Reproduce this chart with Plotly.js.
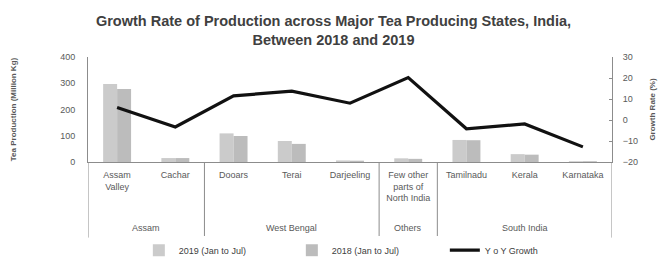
<!DOCTYPE html>
<html>
<head>
<meta charset="utf-8">
<script src="https://cdn.plot.ly/plotly-3.0.1.min.js"></script>
<style>html,body{margin:0;padding:0;background:#fff;}#chart{width:667px;height:258px;}</style>
</head>
<body>
<div id="chart"></div>
<script>
const regions = ["Assam Valley","Cachar","Dooars","Terai","Darjeeling","Few other parts of North India","Tamilnadu","Kerala","Karnataka"];
const regionLabels = ["Assam<br>Valley","Cachar","Dooars","Terai","Darjeeling","Few other<br>parts of<br>North India","Tamilnadu","Kerala","Karnataka"];
const groupNames = ["Assam","West Bengal","Others","South India"];
const groupStart = [0, 2, 5, 6];
const groupEnd = [1, 4, 5, 8];
const prod2019 = [297, 15, 109, 80, 6, 14, 84, 30, 3];
const prod2018 = [278, 15, 99, 69, 5, 12, 83, 28, 3];
const growth = [6.0, -3.3, 11.5, 13.7, 8.0, 20.2, -4.2, -1.9, -12.8];

const traces = [
  {type:'bar', name:'2019 (Jan to Jul)', x:regions, y:prod2019, marker:{color:'#cbcbcb'}},
  {type:'bar', name:'2018 (Jan to Jul)', x:regions, y:prod2018, marker:{color:'#bcbcbc'}},
  {type:'scatter', mode:'lines', name:'Y o Y Growth', x:regions, y:growth, yaxis:'y2', line:{color:'#111', width:3.2}}
];

const shapes = [];
const annotations = [];
const divs = [-0.5];
groupEnd.forEach(e => divs.push(e + 0.5));
divs.forEach(d => shapes.push({type:'line', xref:'x', yref:'paper', x0:d, x1:d, y0:0, y1:-0.72, line:{color:'#8c8c8c', width:1}}));
groupNames.forEach((g, i) => annotations.push({xref:'x', yref:'paper', x:(groupStart[i] + groupEnd[i]) / 2, y:-0.63, text:g, showarrow:false, yanchor:'middle', font:{size:9, color:'#595959'}}));

const layout = {
  width:667, height:258,
  margin:{l:88, r:55, t:57, b:96, autoexpand:false},
  paper_bgcolor:'#fff', plot_bgcolor:'#fff',
  font:{family:'Liberation Sans, Arial, sans-serif', size:9, color:'#595959'},
  title:{text:'<b>Growth Rate of Production across Major Tea Producing States, India,<br>Between 2018 and 2019</b>', font:{size:14.5, color:'#404040'}, x:0.5, xanchor:'center', y:0.9, yanchor:'top'},
  barmode:'group', bargap:0.52, bargroupgap:0,
  xaxis:{type:'category', automargin:false, showline:true, linecolor:'#8c8c8c', linewidth:1, ticks:'', tickvals:regions, ticktext:regionLabels, tickfont:{size:9}, ticklabelstandoff:4, range:[-0.5, 8.5]},
  yaxis:{automargin:false, range:[0,400], dtick:100, showgrid:false, showline:true, linecolor:'#8c8c8c', zeroline:false, ticklabelstandoff:10,
         title:{text:'<b>Tea Production (Million Kg)</b>', font:{size:8}, standoff:42}},
  yaxis2:{automargin:false, overlaying:'y', side:'right', range:[-20,30], dtick:10, showgrid:false, showline:true, linecolor:'#8c8c8c', zeroline:false, ticks:'inside', ticklen:3, tickcolor:'#8c8c8c', ticklabelstandoff:8,
         title:{text:'<b>Growth Rate (%)</b>', font:{size:8}, standoff:12}},
  showlegend:true,
  legend:{orientation:'h', x:0.535, xanchor:'center', y:-0.84, yanchor:'middle', font:{size:9, color:'#404040'}, itemwidth:30, entrywidth:108, entrywidthmode:'pixels'},
  shapes:shapes, annotations:annotations
};
Plotly.newPlot('chart', traces, layout, {displayModeBar:false, staticPlot:true});
</script>
</body>
</html>
